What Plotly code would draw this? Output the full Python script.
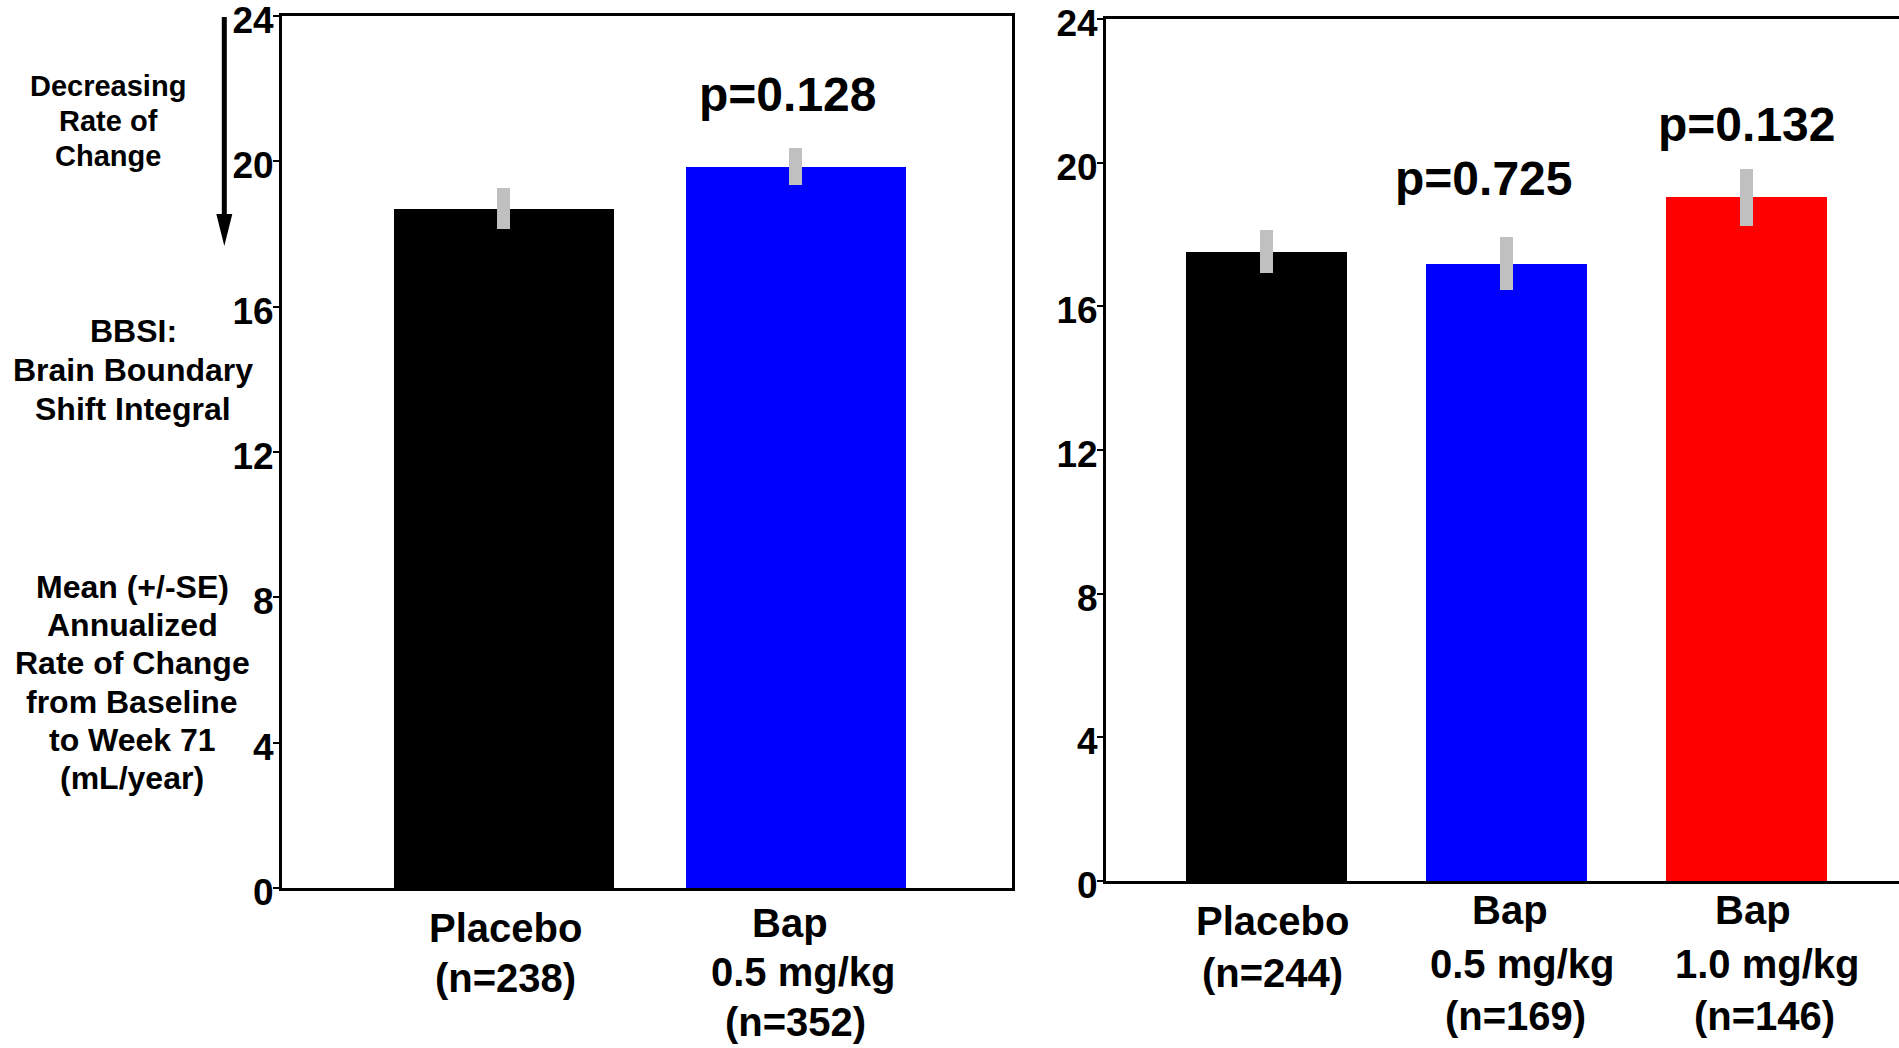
import plotly.graph_objects as go

# ---- data -------------------------------------------------------------
y_ticks = [0, 4, 8, 12, 16, 20, 24]

# left study: placebo vs 0.5 mg/kg
left_means = [18.70, 19.85]
left_se = [0.57, 0.51]
left_colors = ["#000000", "#0000ff"]
left_labels = [["Placebo", "(n=238)"], ["Bap", "0.5 mg/kg", "(n=352)"]]
left_pvals = [None, "p=0.128"]

# right study: placebo vs 0.5 and 1.0 mg/kg
right_means = [17.52, 17.19, 19.04]
right_se = [0.60, 0.74, 0.79]
right_colors = ["#000000", "#0000ff", "#ff0000"]
right_labels = [["Placebo", "(n=244)"],
                ["Bap", "0.5 mg/kg", "(n=169)"],
                ["Bap", "1.0 mg/kg", "(n=146)"]]
right_pvals = [None, "p=0.725", "p=0.132"]

side_title_top = ["Decreasing", "Rate of", "Change"]
side_title_mid = ["BBSI:", "Brain Boundary", "Shift Integral"]
side_title_low = ["Mean (+/-SE)", "Annualized", "Rate of Change",
                  "from Baseline", "to Week 71", "(mL/year)"]

# ---- page geometry -----------------------------------------------------
W, H = 1899, 1048
FONT = "Liberation Sans, Arial, Helvetica, sans-serif"
ERR_GRAY = "#c0c0c0"


def px_x(px):
    return px / W


def px_y(py):
    return 1 - py / H


fig = go.Figure()

fig.add_trace(go.Bar(
    x=list(range(len(left_means))), y=left_means,
    marker=dict(color=left_colors, line=dict(width=0)),
    width=0.754,
    error_y=dict(type="data", array=left_se, color=ERR_GRAY,
                 thickness=13, width=0),
    xaxis="x", yaxis="y", showlegend=False, hoverinfo="skip",
))
fig.add_trace(go.Bar(
    x=list(range(len(right_means))), y=right_means,
    marker=dict(color=right_colors, line=dict(width=0)),
    width=0.671,
    error_y=dict(type="data", array=right_se, color=ERR_GRAY,
                 thickness=13, width=0),
    xaxis="x2", yaxis="y2", showlegend=False, hoverinfo="skip",
))

tick_font = dict(family=FONT, size=37, color="black", weight="bold")
common_y = dict(range=[0, 24], tickvals=y_ticks, ticks="outside", ticklen=6,
                tickwidth=2, tickcolor="black", showgrid=False,
                zeroline=False, showline=True, linecolor="black",
                linewidth=3, tickfont=tick_font, ticklabelstandoff=-8,
                ticklabelshift=4, ticklabeloverflow="allow",
                automargin=False)
common_x = dict(showticklabels=False, ticks="", showgrid=False,
                zeroline=False, showline=True, linecolor="black",
                linewidth=3, mirror=True, fixedrange=True, automargin=False)

fig.update_layout(
    template="none",
    width=W, height=H, autosize=False,
    margin=dict(l=0, r=0, t=0, b=0, pad=0),
    paper_bgcolor="white", plot_bgcolor="white",
    bargap=0,
    xaxis=dict(domain=[px_x(282), px_x(1012)], range=[-0.76, 1.74],
               anchor="y", **common_x),
    yaxis=dict(domain=[px_y(888), px_y(16)], anchor="x", mirror=True,
               **common_y),
    xaxis2=dict(domain=[px_x(1106), 1.0], range=[-0.67, 2.636],
                anchor="y2", **common_x),
    yaxis2=dict(domain=[px_y(881), px_y(19)], anchor="x2", mirror=False,
                **common_y),
)

annotations = []


def text_line(txt, x, y, size, xref="paper", yref="paper", xshift=0):
    annotations.append(dict(
        text=txt, x=x, y=y, xref=xref, yref=yref, xshift=xshift,
        xanchor="center", yanchor="middle", showarrow=False,
        font=dict(family=FONT, size=size, color="black", weight="bold"),
    ))


# side titles, one annotation per line
for i, t in enumerate(side_title_top):
    text_line(t, px_x(108), px_y(86 + 35 * i), 29)
for i, t in enumerate(side_title_mid):
    text_line(t, px_x(133), px_y(330.5 + 39.3 * i), 32)
for i, t in enumerate(side_title_low):
    text_line(t, px_x(132), px_y(587 + 38.2 * i), 32)

# group labels under the bars (row heights and per-line nudges in px)
left_label_rows = {2: [928, 978], 3: [923, 972, 1022]}
right_label_rows = {2: [921, 973], 3: [910, 964, 1016]}
left_label_nudge = [[2, 2], [-6, 8, 0]]
right_label_nudge = [[6, 6], [3, 16, 9], [7, 21, 18]]
for i, lines in enumerate(left_labels):
    for line, py, dx in zip(lines, left_label_rows[len(lines)],
                            left_label_nudge[i]):
        text_line(line, i, px_y(py), 40, xref="x", xshift=dx)
for i, lines in enumerate(right_labels):
    for line, py, dx in zip(lines, right_label_rows[len(lines)],
                            right_label_nudge[i]):
        text_line(line, i, px_y(py), 40, xref="x2", xshift=dx)

# p-values above the treatment bars
left_p_y = [None, 21.84]
left_p_shift = [0, -8]
for i, p in enumerate(left_pvals):
    if p:
        text_line(p, i, left_p_y[i], 48, xref="x", yref="y",
                  xshift=left_p_shift[i])
right_p_y = [None, 19.57, 21.06]
right_p_shift = [0, -23, 0]
for i, p in enumerate(right_pvals):
    if p:
        text_line(p, i, right_p_y[i], 48, xref="x2", yref="y2",
                  xshift=right_p_shift[i])

fig.update_layout(annotations=annotations)

# downward arrow beside the top of the left axis
ax = 224.3
fig.add_shape(type="line", xref="paper", yref="paper",
              x0=px_x(ax), x1=px_x(ax), y0=px_y(17), y1=px_y(220),
              line=dict(color="black", width=5))
fig.add_shape(type="path", xref="paper", yref="paper",
              path=(f"M {px_x(ax - 8)},{px_y(214)} L {px_x(ax + 8)},{px_y(214)} "
                    f"L {px_x(ax)},{px_y(246)} Z"),
              fillcolor="black", line=dict(color="black", width=0))

fig.write_html("out.html")
